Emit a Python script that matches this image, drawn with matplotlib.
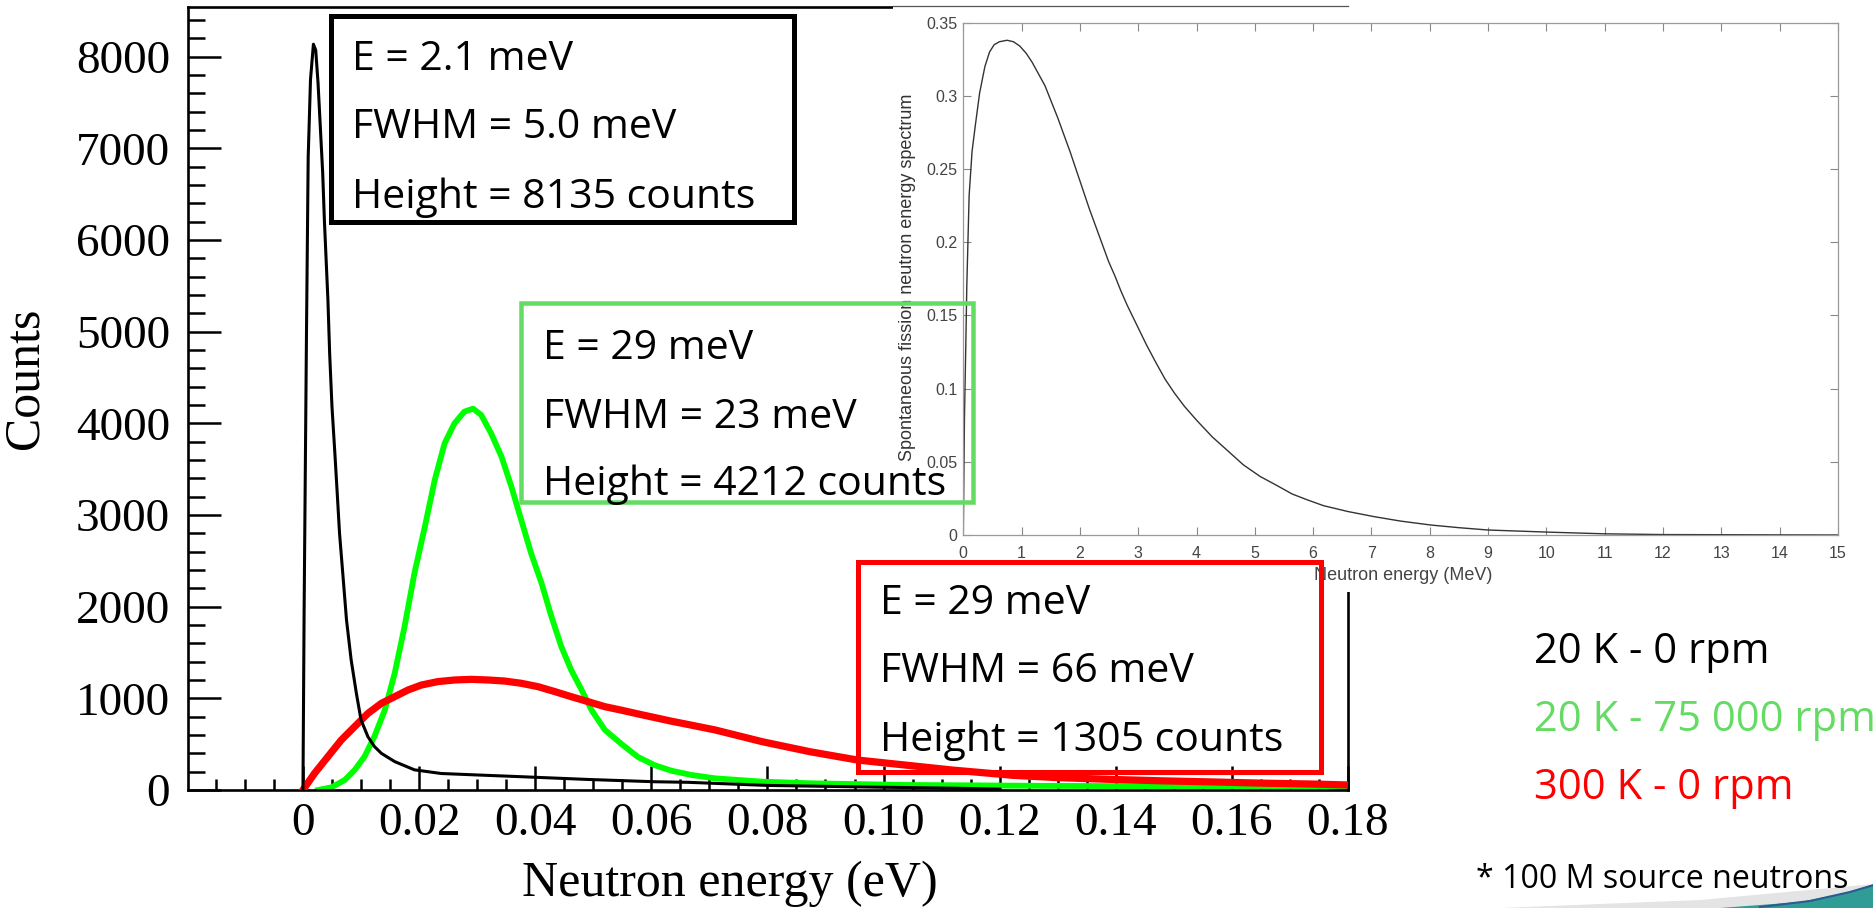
import matplotlib
matplotlib.use("Agg")
import matplotlib.pyplot as plt
from matplotlib.patches import Rectangle, Polygon
from matplotlib.lines import Line2D
from matplotlib.ticker import FixedLocator, MultipleLocator

W, H = 1874, 908

# ---------------- data ----------------
# 20 K - 0 rpm (black)
black_E = [0.0, 0.0002, 0.0006, 0.0009, 0.0013, 0.0018, 0.0022, 0.0026, 0.0030,
           0.0034, 0.0037, 0.0043, 0.0046, 0.0050, 0.0055, 0.0059, 0.0063, 0.0069,
           0.0075, 0.0083, 0.0092, 0.0100, 0.0112, 0.0123, 0.0135, 0.0158, 0.0192,
           0.0238, 0.0296, 0.0376, 0.0491, 0.0606, 0.0663, 0.0800, 0.1000, 0.1120,
           0.1200]
black_counts = [0, 1960, 4930, 6900, 7750, 8135, 8070, 7710, 7220,
                6730, 6200, 5345, 4760, 4180, 3670, 3240, 2800, 2330,
                1855, 1420, 1055, 765, 580, 475, 400, 310, 220,
                180, 165, 145, 115, 90, 84, 50, 30, 20,
                10]

# 20 K - 75 000 rpm (green)
green_E = [0.0026, 0.0049, 0.0072, 0.0089, 0.0106, 0.0123, 0.0141, 0.0158, 0.0175,
           0.0192, 0.0210, 0.0227, 0.0244, 0.0261, 0.0278, 0.0293, 0.0307, 0.0324,
           0.0342, 0.0359, 0.0376, 0.0393, 0.0411, 0.0428, 0.0445, 0.0462, 0.0480,
           0.0497, 0.0520, 0.0549, 0.0577, 0.0606, 0.0635, 0.0669, 0.0710, 0.0791,
           0.0873, 0.0994, 0.1036, 0.1282, 0.1527, 0.1800]
green_counts = [0, 29, 109, 218, 364, 582, 873, 1273, 1782,
                2364, 2873, 3382, 3782, 4000, 4127, 4160, 4091, 3891,
                3636, 3309, 2945, 2582, 2255, 1891, 1564, 1309, 1091,
                873, 655, 500, 360, 270, 210, 164, 127, 91,
                73, 60, 55, 45, 40, 36]

# 300 K - 0 rpm (red)
red_E = [0.0, 0.0020, 0.0043, 0.0066, 0.0089, 0.0112, 0.0135, 0.0158, 0.0181,
         0.0204, 0.0232, 0.0261, 0.0290, 0.0319, 0.0347, 0.0376, 0.0405, 0.0434,
         0.0462, 0.0491, 0.0520, 0.0549, 0.0577, 0.0606, 0.0635, 0.0663, 0.0710,
         0.0791, 0.0873, 0.0955, 0.1036, 0.1118, 0.1223, 0.1300, 0.1395, 0.1480,
         0.1567, 0.1650, 0.1740, 0.1800]
red_counts = [0, 182, 364, 545, 691, 836, 945, 1018, 1091,
              1145, 1182, 1200, 1207, 1200, 1189, 1164, 1127, 1073,
              1018, 964, 909, 870, 830, 790, 750, 715, 655,
              527, 418, 327, 273, 218, 160, 135, 115, 100,
              88, 75, 65, 55]

# inset: spontaneous fission neutron energy spectrum (MeV, arbitrary units)
inset_E = [0.0, 0.02, 0.043, 0.06, 0.10, 0.15, 0.21, 0.28, 0.37, 0.45, 0.53, 0.62,
           0.75, 0.86, 0.97, 1.08, 1.18, 1.29, 1.40, 1.51, 1.62, 1.72, 1.83, 1.94,
           2.05, 2.16, 2.27, 2.38, 2.49, 2.60, 2.70, 2.81, 2.92, 3.03, 3.14, 3.30,
           3.46, 3.62, 3.79, 4.01, 4.27, 4.55, 4.80, 5.09, 5.37, 5.64, 5.90, 6.18,
           6.60, 7.05, 7.50, 8.02, 8.50, 9.0, 10.0, 11.0, 12.0, 15.0]
inset_S = [0.0, 0.080, 0.13, 0.170, 0.232, 0.262, 0.281, 0.302, 0.320, 0.330, 0.335, 0.337,
           0.338, 0.337, 0.334, 0.329, 0.323, 0.315, 0.307, 0.296, 0.285, 0.274, 0.262, 0.249,
           0.236, 0.223, 0.211, 0.199, 0.187, 0.177, 0.167, 0.157, 0.148, 0.139, 0.130, 0.118,
           0.1065, 0.097, 0.088, 0.078, 0.067, 0.057, 0.048, 0.040, 0.034, 0.028, 0.024, 0.020,
           0.016, 0.0125, 0.0095, 0.0068, 0.005, 0.0034, 0.002, 0.0008, 0.0003, 0.0]

x_ticks = [0, 0.02, 0.04, 0.06, 0.08, 0.10, 0.12, 0.14, 0.16, 0.18]
x_ticklabels = ["0", "0.02", "0.04", "0.06", "0.08", "0.10", "0.12", "0.14", "0.16", "0.18"]
y_ticks = [0, 1000, 2000, 3000, 4000, 5000, 6000, 7000, 8000]
inset_xticks = list(range(0, 16))
inset_yticks = [0, 0.05, 0.1, 0.15, 0.2, 0.25, 0.3, 0.35]
inset_yticklabels = ["0", "0.05", "0.1", "0.15", "0.2", "0.25", "0.3", "0.35"]

black_box = ["E = 2.1 meV", "FWHM = 5.0 meV", "Height = 8135 counts"]
green_box = ["E = 29 meV", "FWHM = 23 meV", "Height = 4212 counts"]
red_box = ["E = 29 meV", "FWHM = 66 meV", "Height = 1305 counts"]
legend_labels = ["20 K - 0 rpm", "20 K - 75 000 rpm", "300 K - 0 rpm"]
footnote = "* 100 M source neutrons"

GREEN_TXT = "#64dc64"
SLIDE_FONT = ["Open Sans", "DejaVu Sans"]
SERIF = ["Liberation Serif", "DejaVu Serif"]
NARROW = ["Liberation Sans Narrow", "Liberation Sans", "DejaVu Sans"]

# ---------------- figure ----------------
fig = plt.figure(figsize=(W / 100, H / 100), dpi=100)
fig.patch.set_facecolor("white")


def fx(px):
    return px / W


def fy(py):
    return 1 - py / H


# main axes (pixel frame 188..1348 x 7..790)
ax = fig.add_axes([fx(188), fy(790), (1348 - 188) / W, (790 - 7) / H])
ax.plot(green_E, green_counts, color="#00ff00", lw=4.2, zorder=2, solid_joinstyle="round")
ax.plot(red_E, red_counts, color="#ff0000", lw=5.2, zorder=3, solid_joinstyle="round")
ax.plot(black_E, black_counts, color="black", lw=2.2, zorder=4)
ax.set_xlim(-0.0198, 0.18)
ax.set_ylim(0, 8541)

ax.xaxis.set_major_locator(FixedLocator(x_ticks))
ax.set_xticklabels(x_ticklabels)
ax.xaxis.set_minor_locator(MultipleLocator(0.005))
ax.yaxis.set_major_locator(FixedLocator(y_ticks))
ax.yaxis.set_minor_locator(MultipleLocator(200))
ax.tick_params(axis="both", which="both", direction="in", top=False, right=False,
               width=1.8, color="black")
ax.tick_params(axis="y", which="major", length=24, pad=13, labelsize=34)
ax.tick_params(axis="y", which="minor", length=12)
ax.tick_params(axis="x", which="major", length=17, pad=9, labelsize=34)
ax.tick_params(axis="x", which="minor", length=8)
for lab in ax.get_xticklabels() + ax.get_yticklabels():
    lab.set_family(SERIF)
for sp in ax.spines.values():
    sp.set_linewidth(1.9)
    sp.set_color("black")

ax.set_ylabel("Counts", family=SERIF, fontsize=36, va="center", ha="center")
ax.yaxis.set_label_coords((25 - 188) / 1160, (790 - 378) / 783)
ax.set_xlabel("Neutron energy (eV)", family=SERIF, fontsize=36, va="center", ha="center")
ax.xaxis.set_label_coords((730 - 188) / 1160, (790 - 884) / 783)

# white backdrop of the pasted inset
fig.add_artist(Rectangle((fx(893), fy(592)), (W - 893) / W, 592 / H,
                         transform=fig.transFigure, facecolor="white",
                         edgecolor="none", zorder=1))
fig.add_artist(Line2D([fx(893), fx(1348)], [fy(6), fy(6)], transform=fig.transFigure,
                      color="#555555", lw=0.9, zorder=1.5))

# inset axes (pixel frame 963..1838 x 22.7..535)
iax = fig.add_axes([fx(963.3), fy(535), (1838 - 963.3) / W, (535 - 22.7) / H], zorder=2)
iax.plot(inset_E, inset_S, color="#333333", lw=1.0)
iax.set_xlim(0, 15)
iax.set_ylim(0, 0.35)
iax.set_xticks(inset_xticks)
iax.set_yticks(inset_yticks)
iax.set_yticklabels(inset_yticklabels)
iax.tick_params(axis="both", direction="in", top=True, right=True, length=6,
                width=0.8, color="#888888", labelcolor="#444444", labelsize=11.5)
iax.tick_params(axis="y", pad=4)
iax.tick_params(axis="x", pad=8)
for lab in iax.get_xticklabels() + iax.get_yticklabels():
    lab.set_family(NARROW)
for sp in iax.spines.values():
    sp.set_color("#999999")
    sp.set_linewidth(0.9)
iax.set_ylabel("Spontaneous fission neutron energy spectrum", family=["Liberation Sans", "DejaVu Sans"],
               fontsize=13, color="#333333", va="center", ha="center")
iax.yaxis.set_label_coords((907 - 963.3) / 875, (535 - 277) / 512.3)
iax.set_xlabel("Neutron energy (MeV)", family=NARROW, fontsize=13, color="#444444",
               va="center", ha="center")
iax.xaxis.set_label_coords((1403 - 963.3) / 875, (535 - 575) / 512.3)

# ---------------- annotation boxes ----------------
def frame(x0, y0, x1, y1, color, lw_px):
    fig.add_artist(Rectangle((fx(x0), fy(y1)), (x1 - x0) / W, (y1 - y0) / H,
                             transform=fig.transFigure, fill=False, edgecolor=color,
                             linewidth=lw_px * 0.72, zorder=5))


frame(331, 16, 794, 222, "black", 5)
frame(521, 303, 973, 502, GREEN_TXT, 4.5)
frame(858, 562, 1321, 772, "#ff0000", 5)

renderer = fig.canvas.get_renderer()


def fitted_size(s, target_w, family):
    t = fig.text(0, 0, s, fontsize=30, family=family)
    w = t.get_window_extent(renderer).width
    t.remove()
    return 30 * target_w / w


box_size = fitted_size("Height = 8135 counts", 404, SLIDE_FONT)
for x, baselines, lines in [(352, [70, 138, 208], black_box),
                            (543, [359, 428, 495], green_box),
                            (880, [614, 682, 751], red_box)]:
    for b, s in zip(baselines, lines):
        fig.text(fx(x), fy(b), s, fontsize=box_size, family=SLIDE_FONT, color="black",
                 va="baseline", ha="left", zorder=6)

leg_size = fitted_size("300 K - 0 rpm", 259, SLIDE_FONT)
for b, s, c in zip([663, 731, 799], legend_labels, ["black", GREEN_TXT, "#ff0000"]):
    fig.text(fx(1534), fy(b), s, fontsize=leg_size, family=SLIDE_FONT, color=c,
             va="baseline", ha="left", zorder=6)

foot_size = fitted_size(footnote, 373, SLIDE_FONT)
fig.text(fx(1476), fy(888), footnote, fontsize=foot_size, family=SLIDE_FONT,
         color="black", va="baseline", ha="left", zorder=6)

# slide decoration in the bottom-right corner
fig.add_artist(Polygon([(fx(1500), fy(908)), (fx(1700), fy(900)), (fx(1874), fy(884)),
                        (fx(1874), fy(908))], closed=True, transform=fig.transFigure,
                       facecolor="#e4e4e4", edgecolor="none", zorder=3))
fig.add_artist(Polygon([(fx(1720), fy(908)), (fx(1800), fy(902)), (fx(1845), fy(893)),
                        (fx(1874), fy(884)), (fx(1874), fy(908))], closed=True,
                       transform=fig.transFigure, facecolor="#2f9c95", edgecolor="none",
                       zorder=4))
fig.add_artist(Line2D([fx(1760), fx(1810), fx(1850), fx(1874)],
                      [fy(907), fy(901), fy(892), fy(885)], transform=fig.transFigure,
                      color="#2a5d8f", lw=1.5, zorder=4))

fig.savefig("out.png", dpi=100, facecolor="white")
